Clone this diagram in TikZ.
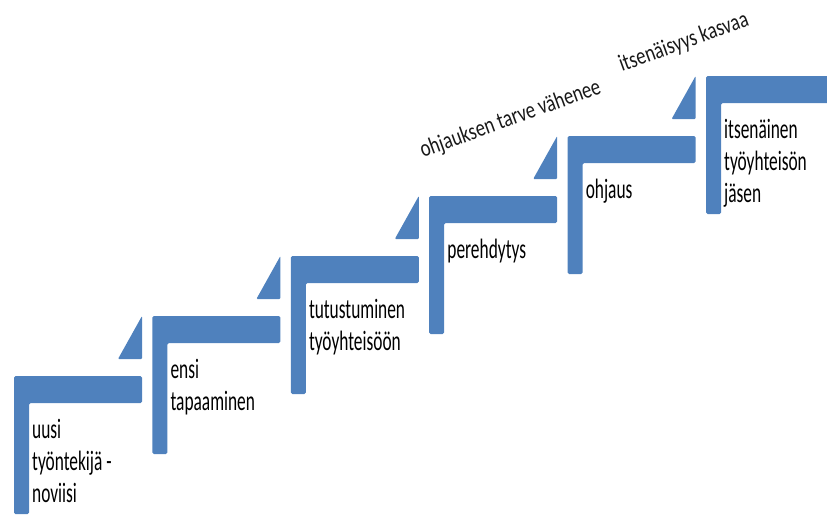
\documentclass[tikz,border=0pt]{standalone}
\usepackage{fontspec}
\setmainfont{Carlito}
\newfontfamily\stairfont{Carlito}[FakeStretch=0.62]
\newfontfamily\slopefont{Carlito}[FakeStretch=0.78]
\usetikzlibrary{positioning}
\definecolor{stairBlue}{RGB}{79,129,189}
\colorlet{stairblue}{stairBlue}

\begin{document}
\begin{tikzpicture}[
  x=1pt, y=-1pt,
  stair/.style={fill=stairblue,rounded corners=1.5pt},
  notch/.style={fill=stairblue,rounded corners=1pt},
  steptext/.style={font=\stairfont\fontsize{28}{32}\selectfont,align=left,anchor=north west,inner sep=0pt},
  slope/.style={font=\slopefont\fontsize{24}{28}\selectfont,anchor=base west,inner sep=0pt,rotate=20,text=black!90}
]
\useasboundingbox (0,0) rectangle (827,514);
\clip (0,0) rectangle (827,514);
% the six steps
\foreach \i in {0,...,5}{
  \pgfmathsetmacro{\L}{14+138.4*\i}
  \pgfmathsetmacro{\T}{376-60*\i}
  \fill[stair] (\L,\T+138) -- (\L,\T) -- (\L+128,\T) -- (\L+128,\T+27) -- (\L+15,\T+27) -- (\L+15,\T+138) -- cycle;
  \coordinate (s\i) at (\L+18,\T+62-22.4);
}
% small wedges between steps
\foreach \i in {0,...,4}{
  \pgfmathsetmacro{\R}{142+138.4*\i}
  \pgfmathsetmacro{\T}{376-60*\i}
  \fill[notch] (\R,\T-60) -- (\R,\T-17) -- (\R-24,\T-17) -- cycle;
}
\node[steptext] (newbie) at (s0) {\strut uusi\\työntekijä -\\noviisi};
\node[steptext] (meeting) at (s1) {\strut ensi\\tapaaminen};
\node[steptext] (intro) at (s2) {\strut tutustuminen\\työyhteisöön};
\node[steptext] (induction) at (s3) {\strut perehdytys};
\node[steptext] (guidance) at (s4) {\strut ohjaus};
\node[steptext] (member) at (s5) {\strut itsenäinen\\työyhteisön\\jäsen};
\node[slope] (lessguide) at (423,158) {ohjauksen tarve vähenee};
\node[slope] (moreindep) at (622,72) {itsenäisyys kasvaa};
\end{tikzpicture}
\end{document}
